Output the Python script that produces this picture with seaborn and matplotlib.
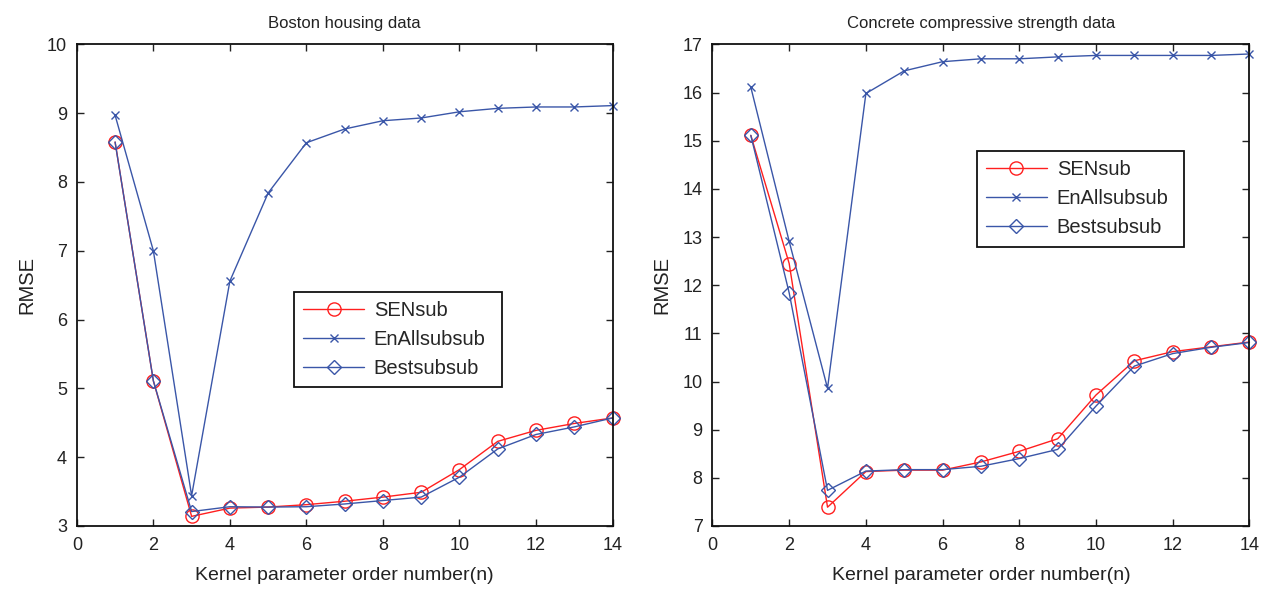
import matplotlib
matplotlib.use("Agg")
import matplotlib.pyplot as plt
import seaborn as sns

sns.set_style("ticks")
plt.rcParams["font.family"] = ["Liberation Sans", "DejaVu Sans"]

order = list(range(1, 15))

# Boston housing data
boston_sen = [8.58, 5.11, 3.14, 3.26, 3.275, 3.31, 3.36, 3.42, 3.49, 3.82, 4.23, 4.39, 4.49, 4.57]
boston_enall = [8.97, 7.00, 3.44, 6.56, 7.84, 8.57, 8.77, 8.89, 8.93, 9.02, 9.07, 9.09, 9.09, 9.11]
boston_best = [8.58, 5.11, 3.21, 3.28, 3.275, 3.28, 3.32, 3.37, 3.42, 3.71, 4.12, 4.33, 4.44, 4.57]

# Concrete compressive strength data
concrete_sen = [15.11, 12.45, 7.39, 8.13, 8.16, 8.16, 8.33, 8.55, 8.81, 9.72, 10.43, 10.62, 10.72, 10.82]
concrete_enall = [16.11, 12.91, 9.86, 15.98, 16.45, 16.64, 16.70, 16.70, 16.74, 16.77, 16.77, 16.77, 16.77, 16.80]
concrete_best = [15.11, 11.84, 7.74, 8.14, 8.17, 8.17, 8.24, 8.40, 8.59, 9.49, 10.32, 10.58, 10.71, 10.81]

titles = ["Boston housing data", "Concrete compressive strength data"]
series_names = ["SENsub", "EnAllsubsub", "Bestsubsub"]
x_ticks = [0, 2, 4, 6, 8, 10, 12, 14]

RED = "#ff1f1f"
BLUE = "#3a56a8"
TEXT = "#222222"

fig = plt.figure(figsize=(12.7, 5.93), dpi=100)
ax_left = fig.add_axes([0.0605, 0.1130, 0.4218, 0.8122])
ax_right = fig.add_axes([0.5610, 0.1130, 0.4228, 0.8122])


def draw_panel(ax, sen, enall, best, title, ylim, yticks, legend_box):
    sns.lineplot(x=order, y=sen, ax=ax, color=RED, linewidth=1.0,
                 marker="o", markersize=9.5, markerfacecolor="none",
                 markeredgecolor=RED, markeredgewidth=1.0, clip_on=False,
                 label=series_names[0])
    sns.lineplot(x=order, y=enall, ax=ax, color=BLUE, linewidth=1.0,
                 marker="x", markersize=5.5, markeredgecolor=BLUE,
                 markeredgewidth=1.0, clip_on=False, label=series_names[1])
    sns.lineplot(x=order, y=best, ax=ax, color=BLUE, linewidth=1.0,
                 marker="D", markersize=7.3, markerfacecolor="none",
                 markeredgecolor=BLUE, markeredgewidth=1.0, clip_on=False,
                 label=series_names[2])
    ax.set_xlim(0, 14)
    ax.set_ylim(*ylim)
    ax.set_xticks(x_ticks)
    ax.set_yticks(yticks)
    ax.tick_params(direction="in", top=True, right=True, length=5, width=1.0,
                   labelsize=13, colors=TEXT, labelcolor=TEXT)
    ax.tick_params(axis="x", pad=8)
    ax.tick_params(axis="y", pad=7)
    for sp in ax.spines.values():
        sp.set_visible(True)
        sp.set_linewidth(1.3)
        sp.set_color("#111111")
    ax.set_title(title, fontsize=12, color=TEXT, pad=12)
    ax.set_xlabel("Kernel parameter order number(n)", fontsize=14, color=TEXT, labelpad=9)
    ax.set_ylabel("RMSE", fontsize=14.5, color=TEXT, labelpad=8)
    leg = ax.legend(loc="upper left", bbox_to_anchor=legend_box, mode="expand",
                    frameon=True, fancybox=False, fontsize=14.5, numpoints=1,
                    handlelength=3.0, borderpad=0.45, labelspacing=0.5,
                    handletextpad=0.5, borderaxespad=0)
    frame = leg.get_frame()
    frame.set_edgecolor("#111111")
    frame.set_linewidth(1.3)
    frame.set_facecolor("white")
    frame.set_alpha(1)


draw_panel(ax_left, boston_sen, boston_enall, boston_best, titles[0],
           (3, 10), list(range(3, 11)), (0.406, 0.2865, 0.387, 0.200))
draw_panel(ax_right, concrete_sen, concrete_enall, concrete_best, titles[1],
           (7, 17), list(range(7, 18)), (0.493, 0.578, 0.386, 0.200))

fig.savefig("out.png", dpi=100)
